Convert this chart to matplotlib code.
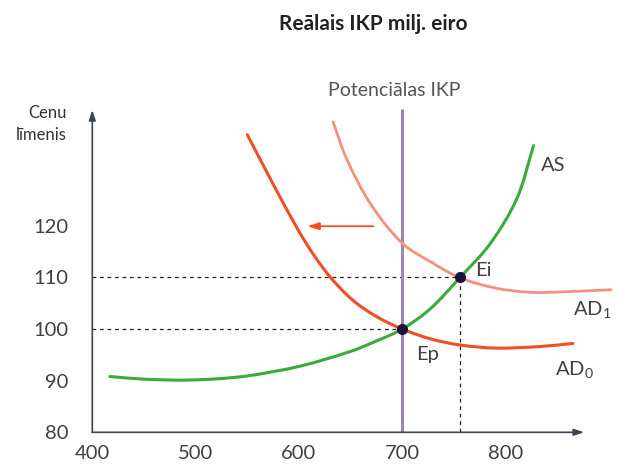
import matplotlib
matplotlib.use("Agg")
import matplotlib.pyplot as plt
from matplotlib.path import Path
from matplotlib.patches import PathPatch
import numpy as np

plt.rcParams['font.family'] = ['Lato', 'DejaVu Sans']
plt.rcParams['mathtext.fontset'] = 'custom'
plt.rcParams['mathtext.rm'] = 'Lato'
plt.rcParams['mathtext.it'] = 'Lato'

# ---- data ----
x_ticks = [400, 500, 600, 700, 800]
y_ticks = [80, 90, 100, 110, 120]

as_x = [417, 449, 488, 524, 553, 601, 649, 674, 700, 727, 756, 785, 811, 827]
as_y = [90.8, 90.3, 90.1, 90.4, 91.0, 92.8, 95.6, 97.6, 100.0, 103.9, 110.0, 116.5, 125.3, 135.5]

ad0_x = [550, 566, 585, 606, 628, 652, 676, 700, 727, 756, 791, 833, 865]
ad0_y = [137.6, 131.5, 124.3, 116.9, 110.6, 105.6, 102.3, 100.0, 98.1, 96.9, 96.3, 96.6, 97.2]

ad1_x = [633, 646, 669, 700, 730, 756, 791, 824, 856, 902]
ad1_y = [140.1, 133.0, 124.3, 116.6, 112.7, 109.9, 107.9, 107.1, 107.2, 107.6]

potential_x = 700
eq_p = (700, 100)
eq_i = (756, 110)
shift_from = (672, 119.9)
shift_to = (608, 119.9)

# ---- figure ----
W, H = 624, 467
fig = plt.figure(figsize=(W / 100, H / 100), dpi=100)
x0, x1 = 400, 910
y0, y1 = 80, 143
px_per_x = 1.0333
px_per_y = 5.165
left_px, bottom_px = 92.3, 432.3
right_px = left_px + (x1 - x0) * px_per_x
top_px = bottom_px - (y1 - y0) * px_per_y
ax = fig.add_axes([left_px / W, (H - bottom_px) / H,
                   (right_px - left_px) / W, (bottom_px - top_px) / H])
ax.set_xlim(x0, x1)
ax.set_ylim(y0, y1)
for s in ax.spines.values():
    s.set_visible(False)


def smooth_path(xs, ys):
    """Cubic Bezier path through the given points (chord-length Catmull-Rom)."""
    P = np.column_stack([xs, ys]).astype(float)
    S = P * np.array([px_per_x, px_per_y])
    d = np.sqrt(((S[1:] - S[:-1]) ** 2).sum(axis=1))
    t = np.concatenate([[0], np.cumsum(d)])
    n = len(P)
    M = np.zeros_like(P)
    for i in range(n):
        if i == 0:
            M[i] = (P[1] - P[0]) / (t[1] - t[0])
        elif i == n - 1:
            M[i] = (P[-1] - P[-2]) / (t[-1] - t[-2])
        else:
            M[i] = (P[i + 1] - P[i - 1]) / (t[i + 1] - t[i - 1])
    verts = [P[0]]
    codes = [Path.MOVETO]
    for i in range(n - 1):
        h = t[i + 1] - t[i]
        verts += [P[i] + M[i] * h / 3, P[i + 1] - M[i + 1] * h / 3, P[i + 1]]
        codes += [Path.CURVE4] * 3
    return Path(np.array(verts), codes)


def draw_curve(xs, ys, color, lw, z=2):
    ax.add_patch(PathPatch(smooth_path(xs, ys), facecolor='none', edgecolor=color,
                           lw=lw, capstyle='round', zorder=z))


axis_col = '#3d4451'
ax.annotate('', xy=(876, 80), xytext=(400, 80),
            arrowprops=dict(arrowstyle='-|>,head_length=0.6,head_width=0.2',
                            color=axis_col, lw=1.2, shrinkA=0, shrinkB=0),
            annotation_clip=False)
ax.annotate('', xy=(400, 142.4), xytext=(400, 80),
            arrowprops=dict(arrowstyle='-|>,head_length=0.6,head_width=0.2',
                            color=axis_col, lw=1.2, shrinkA=0, shrinkB=0),
            annotation_clip=False)

ax.set_xticks(x_ticks)
ax.set_yticks(y_ticks)
ax.tick_params(axis='both', length=0, labelsize=14.5, labelcolor='#404040')
ax.tick_params(axis='x', pad=9)
ax.tick_params(axis='y', pad=17)

# dashed guides
dash = dict(color='#222222', lw=0.9, linestyle=(0, (3, 3)))
ax.plot([400, eq_p[0]], [eq_p[1], eq_p[1]], **dash)
ax.plot([400, eq_i[0]], [eq_i[1], eq_i[1]], **dash)
ax.plot([eq_i[0], eq_i[0]], [80, eq_i[1]], **dash)

# potential GDP line
ax.plot([potential_x, potential_x], [80, 142.5], color='#9a85b8', lw=2.2, solid_capstyle='butt')

# curves
draw_curve(ad1_x, ad1_y, '#f4917b', 2.0, 2)
draw_curve(ad0_x, ad0_y, '#f04e23', 2.2, 3)
draw_curve(as_x, as_y, '#3aaa3a', 2.2, 4)

# shift arrow
ax.annotate('', xy=shift_to, xytext=shift_from,
            arrowprops=dict(arrowstyle='-|>,head_length=0.7,head_width=0.22',
                            color='#f04e23', lw=1.3, shrinkA=0, shrinkB=0))

# equilibrium points
ax.plot([eq_p[0], eq_i[0]], [eq_p[1], eq_i[1]], 'o', color='#1e0f3d', ms=7, zorder=5)

lab = dict(fontsize=14.5, color='#404040')
ax.text(845.6, 131.6, 'AS', ha='center', va='center', **lab)
ax.text(778, 111.4, 'Ei', ha='center', va='center', **lab)
ax.text(724, 95.0, 'Ep', ha='center', va='center', **lab)
ax.text(865.2, 102.7, 'AD$_1$', ha='left', va='baseline', **lab)
ax.text(847.8, 91.1, 'AD$_0$', ha='left', va='baseline', **lab)

fig.text(373 / W, 1 - 24 / H, 'Reālais IKP milj. eiro', ha='center', va='center',
         fontsize=15, fontweight='bold', color='#222222')
fig.text(394.7 / W, 1 - 90 / H, 'Potenciālas IKP', ha='center', va='center',
         fontsize=14, color='#555555')
fig.text(67 / W, 1 - 124 / H, 'Cenu\nlīmenis', ha='right', va='center',
         multialignment='right', fontsize=12, color='#333333', linespacing=1.45)

fig.savefig('out.png', dpi=100)
